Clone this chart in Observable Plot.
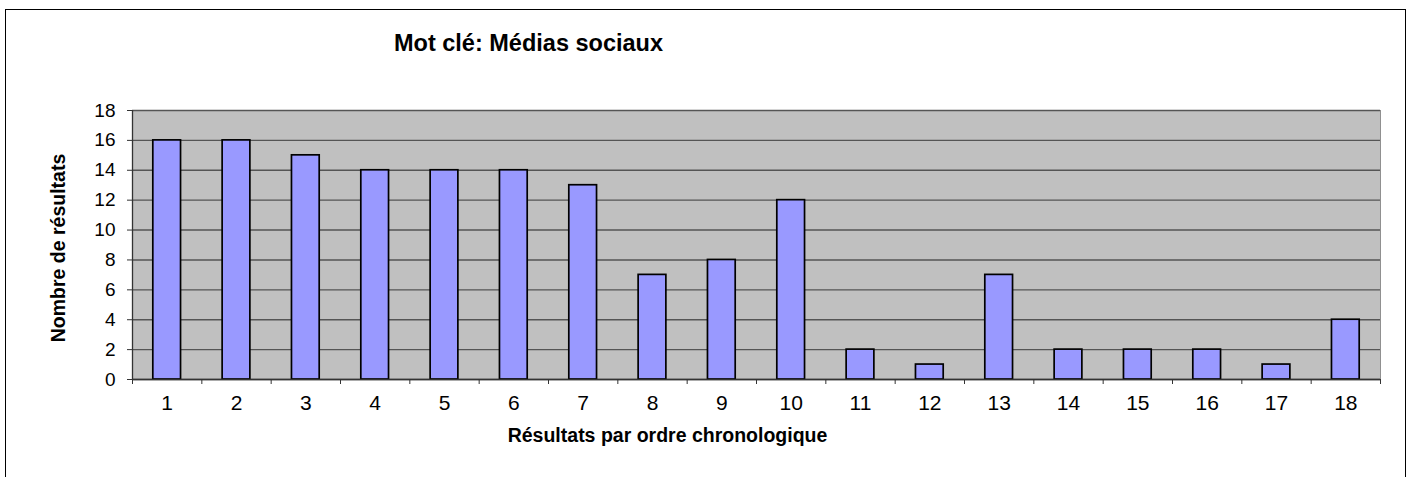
<!DOCTYPE html>
<html>
<head>
<meta charset="utf-8">
<script src="https://cdn.jsdelivr.net/npm/d3@7"></script>
<script src="https://cdn.jsdelivr.net/npm/@observablehq/plot@0.6"></script>
<style>
  html, body { margin: 0; padding: 0; background: #fff; overflow: hidden; }
  #wrap { position: relative; width: 1415px; height: 477px; }
  #border { position: absolute; left: 5px; top: 9px; width: 1401px; height: 520px; border: 1px solid #000; box-sizing: border-box; pointer-events: none; }
  svg { font-family: "Liberation Sans", Arial, sans-serif; }
</style>
</head>
<body>
<div id="wrap"><div id="border"></div></div>
<script>
const titleText = "Mot clé: Médias sociaux";
const xLabel = "Résultats par ordre chronologique";
const yLabel = "Nombre de résultats";
const positions = [1,2,3,4,5,6,7,8,9,10,11,12,13,14,15,16,17,18];
const counts = [16,16,15,14,14,14,13,7,8,12,2,1,7,2,2,2,1,4];
const yTicks = [0,2,4,6,8,10,12,14,16,18];

const data = positions.map((p, i) => ({pos: p, count: counts[i]}));
const boundaries = [...positions.map(p => p - 0.5), positions[positions.length - 1] + 0.5];
const half = 0.2;

const chart = Plot.plot({
  width: 1415,
  height: 477,
  marginLeft: 132,
  marginRight: 35,
  marginTop: 110,
  marginBottom: 98,
  style: {fontFamily: "'Liberation Sans', Arial, sans-serif", fontSize: "19px", color: "#000", background: "#fff"},
  x: {type: "linear", domain: [0.5, 18.5]},
  y: {domain: [0, 18]},
  marks: [
    Plot.frame({fill: "#C0C0C0", stroke: "#909090"}),
    Plot.gridY(yTicks, {stroke: "#555", strokeOpacity: 1, strokeWidth: 1.4}),
    Plot.rectY(data, {x1: d => d.pos - half, x2: d => d.pos + half, y: "count", fill: "#9999FF", stroke: "#000", strokeWidth: 1.7}),
    Plot.ruleY([0], {stroke: "#333", strokeWidth: 1.3}),
    Plot.ruleX([0.5], {stroke: "#333", strokeWidth: 1.3}),
    Plot.axisY({ticks: yTicks, tickSize: 5, tickPadding: 12, label: null, fontSize: 19, stroke: "#333"}),
    Plot.axisX({ticks: boundaries, tickSize: 5, tickFormat: () => "", label: null, stroke: "#333"}),
    Plot.axisX({ticks: positions, tickSize: 0, tickPadding: 16, tickFormat: d => String(d), label: null, fontSize: 21}),
    Plot.text([titleText], {frameAnchor: "top-left", dx: 528 - 132, dy: -76, textAnchor: "middle", fontWeight: "bold", fontSize: 23.5, fill: "#000"}),
    Plot.text([xLabel], {frameAnchor: "bottom-left", dx: 667 - 132, dy: 62, textAnchor: "middle", fontWeight: "bold", fontSize: 19.5, fill: "#000"}),
    Plot.text([yLabel], {frameAnchor: "left", dx: 58 - 132, dy: 3, rotate: -90, textAnchor: "middle", fontWeight: "bold", fontSize: 19.5, fill: "#000"})
  ]
});
document.getElementById("wrap").prepend(chart);
</script>
</body>
</html>
